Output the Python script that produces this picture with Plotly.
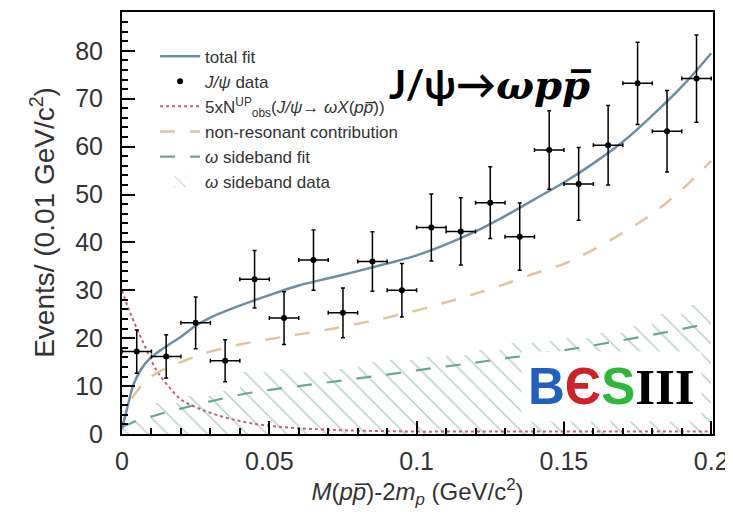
import plotly.graph_objects as go

# J/psi data, bins of 0.01 GeV/c^2
bin_centres = [0.005, 0.015, 0.025, 0.035, 0.045, 0.055, 0.065, 0.075, 0.085, 0.095,
               0.105, 0.115, 0.125, 0.135, 0.145, 0.155, 0.165, 0.175, 0.185, 0.195]
events = [17.2, 16.2, 23.2, 15.3, 32.3, 24.2, 36.3, 25.3, 36.0, 30.0,
          43.1, 42.3, 48.3, 41.2, 59.3, 52.2, 60.3, 73.2, 63.2, 74.2]
event_errors = [4.5, 4.5, 5.4, 4.4, 6.0, 5.5, 6.3, 5.2, 6.2, 5.6,
                7.0, 7.0, 7.5, 7.0, 8.2, 7.6, 8.3, 8.6, 8.5, 9.1]

# omega sideband data (hatched histogram)
sideband_counts = [3.0, 6.5, 8.0, 9.0, 13.0, 13.5, 13.0, 13.5, 15.0, 15.5,
                   16.0, 16.5, 17.5, 19.0, 19.5, 20.0, 21.0, 22.5, 25.0, 27.0]

# fitted curves
curve_mass = [0.0, 0.002, 0.004, 0.008, 0.012, 0.016, 0.02, 0.025, 0.03, 0.04, 0.05,
              0.06, 0.07, 0.08, 0.09, 0.1, 0.11, 0.12, 0.13, 0.14, 0.15, 0.16,
              0.17, 0.18, 0.19, 0.2]
total_fit = [1.0, 6.0, 10.5, 14.8, 17.0, 18.7, 20.3, 22.6, 24.3, 26.8, 29.0,
             31.0, 32.5, 34.0, 35.6, 37.3, 39.6, 42.3, 45.5, 49.0, 52.5, 56.5,
             61.0, 66.5, 72.5, 79.5]
non_resonant = [1.5, 5.5, 8.0, 11.0, 12.8, 14.0, 15.0, 16.2, 17.2, 18.7, 19.8,
                20.8, 21.8, 23.0, 24.3, 25.8, 27.5, 29.3, 31.3, 33.5, 35.5, 38.5,
                42.0, 46.0, 51.0, 57.0]
upper_limit = [30.0, 26.5, 23.5, 18.0, 13.0, 9.8, 7.2, 5.6, 4.4, 2.7, 1.7,
               1.2, 0.9, 0.7, 0.6, 0.5, 0.5, 0.5, 0.5, 0.5, 0.5, 0.5,
               0.5, 0.5, 0.5, 0.5]
sideband_fit = [1.5, 2.0, 2.5, 3.3, 4.0, 4.7, 5.3, 6.1, 6.8, 8.2, 9.2,
                10.0, 10.8, 11.6, 12.4, 13.3, 14.1, 14.9, 15.8, 16.6, 17.5, 18.5,
                19.6, 20.7, 21.9, 23.2]

FONT = "Liberation Sans, Arial, sans-serif"
PBAR = "p\u0305"

fig = go.Figure()

fig.add_trace(go.Bar(
    x=bin_centres, y=sideband_counts, width=0.01,
    name="<i>ω</i> sideband data", legendrank=6,
    marker=dict(color="rgba(0,0,0,0)", line_width=0,
                pattern=dict(shape="\\", fgcolor="#7fae9c", bgcolor="rgba(0,0,0,0)",
                             size=14, solidity=0.12)),
))
fig.add_trace(go.Scatter(
    x=curve_mass, y=sideband_fit, mode="lines", line_shape="spline",
    name="<i>ω</i> sideband fit", legendrank=5,
    line=dict(color="#6aa896", width=2.2, dash="longdash"),
))
fig.add_trace(go.Scatter(
    x=curve_mass, y=upper_limit, mode="lines", line_shape="spline",
    name=f"5xN<sup>UP</sup><sub>obs</sub>(<i>J/ψ</i>→ <i>ωX</i>(<i>p{PBAR}</i>))",
    legendrank=3,
    line=dict(color="#c0607a", width=2, dash="dot"),
))
fig.add_trace(go.Scatter(
    x=curve_mass, y=non_resonant, mode="lines", line_shape="spline",
    name="non-resonant contribution", legendrank=4,
    line=dict(color="#e2c49c", width=2.5, dash="longdash"),
))
fig.add_trace(go.Scatter(
    x=curve_mass, y=total_fit, mode="lines", line_shape="spline",
    name="total fit", legendrank=1,
    line=dict(color="#6e8ea3", width=2.5),
))
fig.add_trace(go.Scatter(
    x=bin_centres, y=events, mode="markers",
    name="<i>J/ψ</i> data", legendrank=2,
    marker=dict(color="black", size=6),
    error_y=dict(type="data", array=event_errors, color="black", thickness=1.5, width=2),
    error_x=dict(type="constant", value=0.005, color="black", thickness=1.5, width=2),
))

fig.add_annotation(
    x=0.622, y=0.89, xref="paper", yref="paper", showarrow=False,
    text=("<b>J/ψ→</b><span style='font-family:DejaVu Serif'><b><i>ωp"
          + PBAR + "</i></b></span>"),
    font=dict(family="Lato, sans-serif", size=40, color="black"),
)
fig.add_annotation(
    x=0.166, y=10, showarrow=False, bgcolor="white", borderpad=6,
    text=("<span style='color:#2060c0'>B</span><span style='color:#d02028'>Є</span>"
          "<span style='color:#2db83a'>S</span>"
          "<span style='color:black;font-family:Liberation Serif'>III</span>"),
    font=dict(family="Liberation Sans, sans-serif", size=51,
              color="black", weight="bold"),
)
fig.add_annotation(
    x=-0.168, y=0.502, xref="paper", yref="paper", showarrow=False, textangle=-90,
    text="Events/ (0.01 GeV/c<sup>2</sup>)",
    font=dict(size=28, color="#333333"),
)

fig.update_layout(
    width=733, height=527,
    margin=dict(l=114, r=28, t=2, b=101),
    paper_bgcolor="white", plot_bgcolor="white",
    barmode="overlay", bargap=0,
    font=dict(family=FONT, color="#333333"),
    showlegend=True,
    legend=dict(x=0.056, y=0.937, xanchor="left", yanchor="top",
                bgcolor="rgba(0,0,0,0)", font=dict(size=17, color="#333333"),
                traceorder="normal", tracegroupgap=0, itemwidth=40),
)
fig.update_xaxes(
    range=[0, 0.2006], tickvals=[0, 0.05, 0.1, 0.15, 0.2],
    ticktext=["0", "0.05", "0.1", "0.15", "0.2"],
    ticks="inside", ticklen=13, tickwidth=1.5, tickcolor="black",
    minor=dict(dtick=0.01, ticks="inside", ticklen=6, tickcolor="black", tickwidth=1.5),
    showline=True, linecolor="black", linewidth=2, mirror=True,
    showgrid=False, zeroline=False, tickfont=dict(size=25), ticklabelstandoff=4,
    title=dict(text=f"<i>M</i>(<i>p{PBAR}</i>)-2<i>m<sub>p</sub></i> (GeV/c<sup>2</sup>)",
               font=dict(size=24), standoff=6),
)
fig.update_yaxes(
    range=[0, 88.1], dtick=10,
    ticks="inside", ticklen=13, tickwidth=1.5, tickcolor="black",
    minor=dict(dtick=2, ticks="inside", ticklen=6, tickcolor="black", tickwidth=1.5),
    showline=True, linecolor="black", linewidth=2, mirror=True,
    showgrid=False, zeroline=False, tickfont=dict(size=25), ticklabelstandoff=12,
)

fig.write_html("out.html")
